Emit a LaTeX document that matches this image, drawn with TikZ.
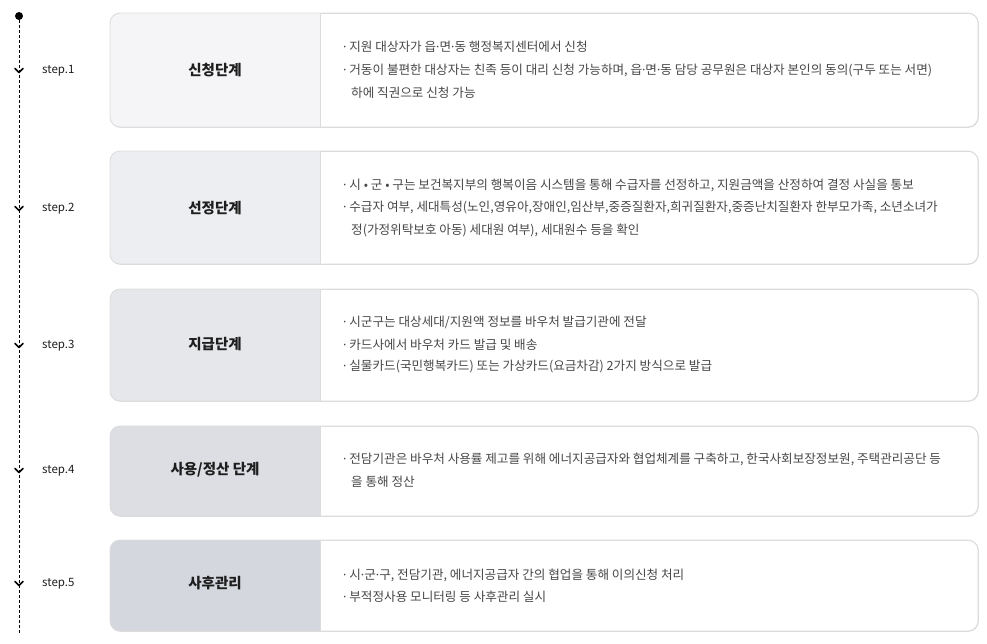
\documentclass[tikz,border=0pt]{standalone}
\usepackage{fontspec}
\setmainfont{Noto Sans CJK KR}
\newfontfamily\dotfont{Noto Sans}
\newcommand\md{{\dotfont ·}}
\definecolor{fillA}{HTML}{F5F5F7}
\definecolor{fillB}{HTML}{EDEEF1}
\definecolor{fillC}{HTML}{E6E7EB}
\definecolor{fillD}{HTML}{DDDEE3}
\definecolor{fillE}{HTML}{D4D7DE}
\definecolor{bordergray}{HTML}{DCDCDC}
\definecolor{bodytext}{HTML}{474747}
\definecolor{darktext}{HTML}{1E1E1E}
\tikzset{
  boxframe/.style={draw=bordergray, line width=0.8pt, fill=white, rounded corners=10pt, anchor=north west, inner sep=0pt},
  titletext/.style={font=\fontsize{14.5}{17}\selectfont\bfseries, text=darktext, anchor=center},
  bodyline/.style={font=\fontsize{12.6}{15}\selectfont, text=bodytext, anchor=west, inner sep=0pt},
  steplabel/.style={font=\fontsize{11.5}{13}\selectfont, text=darktext, anchor=west, inner sep=0pt},
  chevron/.style={line width=1.5pt, line cap=round, line join=round},
  timeline/.style={dashed, dash pattern=on 3pt off 2pt, line width=0.8pt}
}
\newcommand\mybox[6]{%
  % #1 name, #2 top, #3 bottom, #4 fill colour, #5 title, #6 title y
  \node[boxframe, minimum width=868pt, minimum height=#3pt-#2pt] (#1) at (110,#2) {};
  \begin{scope}
    \clip[rounded corners=10pt] (110,#2) rectangle (978,#3);
    \fill[#4] (110,#2) rectangle (320,#3);
  \end{scope}
  \draw[bordergray, line width=0.8pt, rounded corners=10pt] (110,#2) rectangle (978,#3);
  \draw[bordergray, line width=0.8pt] (320,#2) -- (320,#3);
  \node[titletext] (#1title) at (215,#6) {#5};
}
\begin{document}
\begin{tikzpicture}[x=1pt,y=-1pt]
\useasboundingbox (0,0) rectangle (987,643);

% timeline
\node[circle, fill=black, inner sep=0pt, minimum size=8pt] (dot) at (19,16) {};
\coordinate (lineend) at (19,634);
\draw[timeline] (dot) -- (lineend);
\foreach \yy/\nm in {71/1,209/2,346/3,471/4,584/5}{
  \draw[chevron] (15,\yy-2.5) -- (19,\yy+1.5) -- (23,\yy-2.5);
  \node[steplabel] (lab\nm) at (42,\yy) {step.\nm};
}

% step 1
\mybox{boxA}{13}{127}{fillA}{신청단계}{70}
\node[bodyline] (a1) at (343,47) {\md{} 지원 대상자가 읍\md{}면\md{}동 행정복지센터에서 신청};
\node[bodyline] (a2) at (343,70) {\md{} 거동이 불편한 대상자는 친족 등이 대리 신청 가능하며, 읍\md{}면\md{}동 담당 공무원은 대상자 본인의 동의(구두 또는 서면)};
\node[bodyline] (a3) at (351,93) {하에 직권으로 신청 가능};

% step 2
\mybox{boxB}{151}{264}{fillB}{선정단계}{208}
\node[bodyline] (b1) at (343,185) {\md{} 시 • 군 • 구는 보건복지부의 행복이음 시스템을 통해 수급자를 선정하고, 지원금액을 산정하여 결정 사실을 통보};
\node[bodyline] (b2) at (343,208) {\md{} 수급자 여부, 세대특성(노인,영유아,장애인,임산부,중증질환자,희귀질환자,중증난치질환자 한부모가족, 소년소녀가};
\node[bodyline] (b3) at (351,230) {정(가정위탁보호 아동) 세대원 여부), 세대원수 등을 확인};

% step 3
\mybox{boxC}{289}{401}{fillC}{지급단계}{344}
\node[bodyline] (c1) at (343,322) {\md{} 시군구는 대상세대/지원액 정보를 바우처 발급기관에 전달};
\node[bodyline] (c2) at (343,345) {\md{} 카드사에서 바우처 카드 발급 및 배송};
\node[bodyline] (c3) at (343,367) {\md{} 실물카드(국민행복카드) 또는 가상카드(요금차감) 2가지 방식으로 발급};

% step 4
\mybox{boxD}{426}{516}{fillD}{사용/정산 단계}{470}
\node[bodyline] (d1) at (343,459) {\md{} 전담기관은 바우처 사용률 제고를 위해 에너지공급자와 협업체계를 구축하고, 한국사회보장정보원, 주택관리공단 등};
\node[bodyline] (d2) at (351,482) {을 통해 정산};

% step 5
\mybox{boxE}{540}{631}{fillE}{사후관리}{583}
\node[bodyline] (e1) at (343,575) {\md{} 시\md{}군\md{}구, 전담기관, 에너지공급자 간의 협업을 통해 이의신청 처리};
\node[bodyline] (e2) at (343,597) {\md{} 부적정사용 모니터링 등 사후관리 실시};
\end{tikzpicture}
\end{document}
